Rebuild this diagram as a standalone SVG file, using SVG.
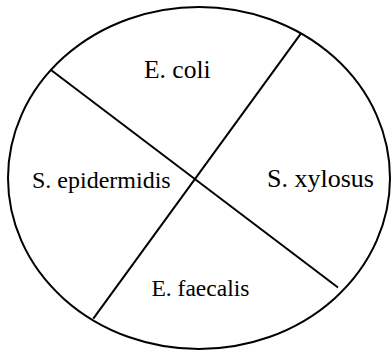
<svg xmlns="http://www.w3.org/2000/svg" width="392" height="352" viewBox="0 0 392 352">
<style>
.shape{fill:none;stroke:#000;stroke-width:2}
.ln{fill:none;stroke:#000;stroke-width:2}
.lbl{font-family:"Liberation Serif","Times New Roman",serif;fill:#000}
</style>
<rect width="392" height="352" fill="#fff"/>
<g id="outline">
<ellipse class="shape" cx="199" cy="178" rx="191" ry="171"/>
</g>
<g id="connectors">
<line class="ln" x1="51" y1="70" x2="338" y2="287.5"/>
<line class="ln" x1="301" y1="33.3" x2="93.3" y2="318.7"/>
</g>
<g id="ecoli">
<text class="lbl" x="144" y="78" font-size="25.5">E. coli</text>
</g>
<g id="sepidermidis">
<text class="lbl" x="32" y="188" font-size="24">S. epidermidis</text>
</g>
<g id="sxylosus">
<text class="lbl" x="267" y="187" font-size="26">S. xylosus</text>
</g>
<g id="efaecalis">
<text class="lbl" x="151.5" y="295.5" font-size="23.5">E. faecalis</text>
</g>
</svg>
